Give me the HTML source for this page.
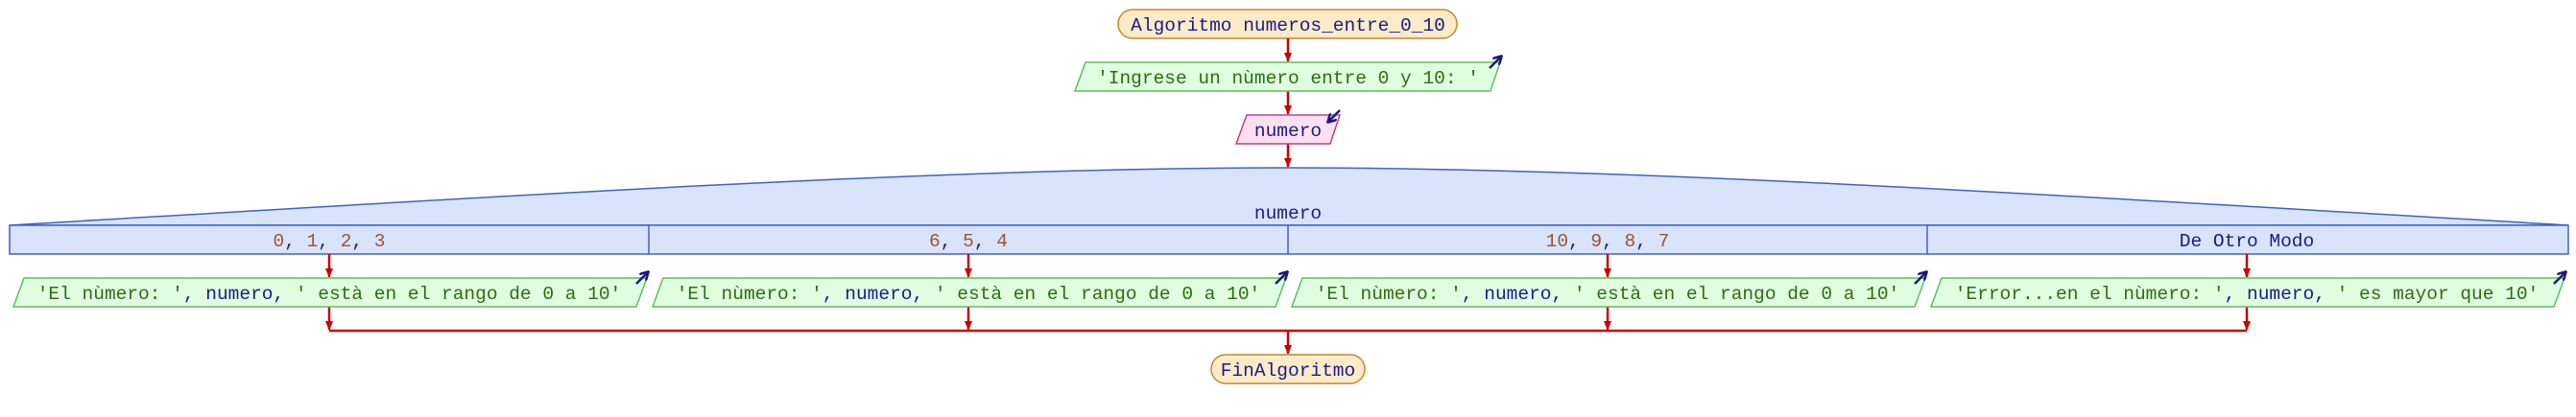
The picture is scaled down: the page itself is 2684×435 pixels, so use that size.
<!DOCTYPE html>
<html><head><meta charset="utf-8"><style>
html,body{margin:0;padding:0;background:#fff;}
svg{display:block;}
text{font-family:"Liberation Mono",monospace;font-size:19.5px;}
.s{fill:#2a6e10;} .i{fill:#1a1a8a;} .n{fill:#a0522d;}
</style></head><body>
<svg width="2684" height="435" viewBox="0 0 2684 435" xmlns="http://www.w3.org/2000/svg">
<defs>
<marker id="ah" markerWidth="10" markerHeight="8" refX="9" refY="4" orient="auto" markerUnits="userSpaceOnUse"><path d="M0,0 L10,4 L0,8 z" fill="#cc0000"/></marker>
<marker id="bh" markerWidth="10" markerHeight="10" refX="8" refY="5" orient="auto" markerUnits="userSpaceOnUse"><path d="M0,0 L9,5 L0,10" fill="none" stroke="#1a1a7a" stroke-width="2.5"/></marker>
</defs>
<!-- start -->
<rect x="1165" y="10" width="353" height="30" rx="15" fill="#fdebc8" stroke="#c8842a" stroke-width="1.5"/>
<text x="1342" y="32" text-anchor="middle" class="i">Algoritmo numeros_entre_0_10</text>
<g stroke="#cc0000" stroke-width="2.5" fill="none">
<line x1="1342" y1="40" x2="1342" y2="64" marker-end="url(#ah)"/>
<line x1="1342" y1="95" x2="1342" y2="119" marker-end="url(#ah)"/>
<line x1="1342" y1="150" x2="1342" y2="174" marker-end="url(#ah)"/>
</g>
<!-- input prompt -->
<polygon points="1131,65 1563,65 1553,95 1120,95" fill="#e0fde0" stroke="#5cbf5c" stroke-width="1.5"/>
<text x="1342" y="87" text-anchor="middle" class="s">'Ingrese un nùmero entre 0 y 10: '</text>
<line x1="1552" y1="71" x2="1564" y2="59" stroke="#1a1a7a" stroke-width="2.5" marker-end="url(#bh)"/>
<!-- read -->
<polygon points="1299,120 1396,120 1386,150 1288,150" fill="#fde0f0" stroke="#c04080" stroke-width="1.5"/>
<text x="1342" y="142" text-anchor="middle" class="i">numero</text>
<line x1="1396" y1="115" x2="1384" y2="127" stroke="#1a1a7a" stroke-width="2.5" marker-end="url(#bh)"/>
<!-- switch -->
<path d="M10,235 C600,200 1000,175 1342,175 C1684,175 2084,200 2676,235 Z" fill="#d8e4fc" stroke="#4060c8" stroke-width="1.5"/>
<rect x="10" y="235" width="2666" height="30" fill="#d8e4fc" stroke="#4060c8" stroke-width="1.5"/>
<g stroke="#4060c8" stroke-width="1.5"><line x1="676" y1="235" x2="676" y2="265"/><line x1="1342" y1="235" x2="1342" y2="265"/><line x1="2008" y1="235" x2="2008" y2="265"/></g>
<text x="1342" y="228" text-anchor="middle" class="i">numero</text>
<text x="343" y="257" text-anchor="middle" class="n">0<tspan class="i">,</tspan> 1<tspan class="i">,</tspan> 2<tspan class="i">,</tspan> 3</text>
<text x="1009" y="257" text-anchor="middle" class="n">6<tspan class="i">,</tspan> 5<tspan class="i">,</tspan> 4</text>
<text x="1675" y="257" text-anchor="middle" class="n">10<tspan class="i">,</tspan> 9<tspan class="i">,</tspan> 8<tspan class="i">,</tspan> 7</text>
<text x="2341" y="257" text-anchor="middle" class="i">De Otro Modo</text>
<!-- outputs -->
<g stroke="#cc0000" stroke-width="2.5" fill="none">
<line x1="343" y1="265" x2="343" y2="289" marker-end="url(#ah)"/>
<line x1="1009" y1="265" x2="1009" y2="289" marker-end="url(#ah)"/>
<line x1="1675" y1="265" x2="1675" y2="289" marker-end="url(#ah)"/>
<line x1="2341" y1="265" x2="2341" y2="289" marker-end="url(#ah)"/>
<line x1="343" y1="320" x2="343" y2="344" marker-end="url(#ah)"/>
<line x1="1009" y1="320" x2="1009" y2="344" marker-end="url(#ah)"/>
<line x1="1675" y1="320" x2="1675" y2="344" marker-end="url(#ah)"/>
<line x1="2341" y1="320" x2="2341" y2="344" marker-end="url(#ah)"/>
<line x1="343" y1="345" x2="2341" y2="345"/>
<line x1="1342" y1="345" x2="1342" y2="369" marker-end="url(#ah)"/>
</g>
<g fill="#e0fde0" stroke="#5cbf5c" stroke-width="1.5">
<polygon points="25,290 674,290 663,320 14,320"/>
<polygon points="691,290 1340,290 1329,320 680,320"/>
<polygon points="1357,290 2006,290 1995,320 1346,320"/>
<polygon points="2023,290 2672,290 2661,320 2012,320"/>
</g>
<g stroke="#1a1a7a" stroke-width="2.5">
<line x1="663" y1="296" x2="675" y2="284" marker-end="url(#bh)"/>
<line x1="1329" y1="296" x2="1341" y2="284" marker-end="url(#bh)"/>
<line x1="1995" y1="296" x2="2007" y2="284" marker-end="url(#bh)"/>
<line x1="2661" y1="296" x2="2673" y2="284" marker-end="url(#bh)"/>
</g>
<text x="343" y="312" text-anchor="middle" class="s">'El nùmero: '<tspan class="i">, numero, </tspan>' està en el rango de 0 a 10'</text>
<text x="1009" y="312" text-anchor="middle" class="s">'El nùmero: '<tspan class="i">, numero, </tspan>' està en el rango de 0 a 10'</text>
<text x="1675" y="312" text-anchor="middle" class="s">'El nùmero: '<tspan class="i">, numero, </tspan>' està en el rango de 0 a 10'</text>
<text x="2341" y="312" text-anchor="middle" class="s">'Error...en el nùmero: '<tspan class="i">, numero, </tspan>' es mayor que 10'</text>
<!-- end -->
<rect x="1262" y="370" width="160" height="30" rx="15" fill="#fdebc8" stroke="#c8842a" stroke-width="1.5"/>
<text x="1342" y="392" text-anchor="middle" class="i">FinAlgoritmo</text>
</svg>
</body></html>
